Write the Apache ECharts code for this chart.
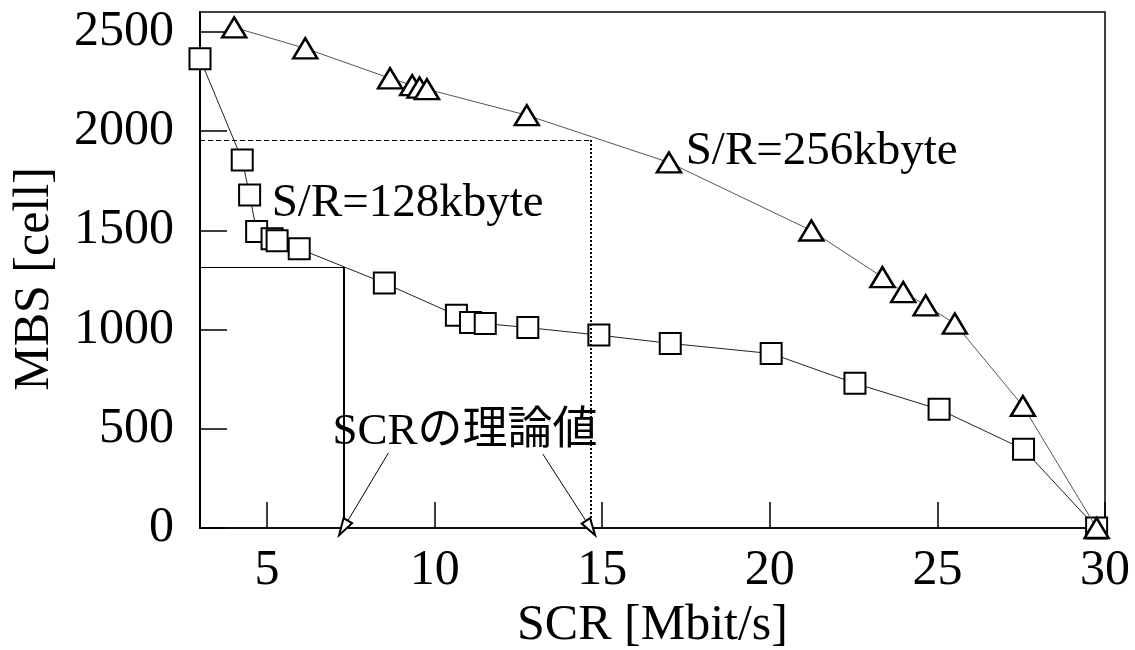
<!DOCTYPE html>
<html><head><meta charset="utf-8">
<script src="https://cdn.jsdelivr.net/npm/echarts@6/dist/echarts.min.js"></script>
<style>html,body{margin:0;padding:0;background:#fff}#c{width:1135px;height:650px}</style>
</head><body><div id="c"></div>
<script>
// ---- data ----
const scr128 = [3.0, 4.26, 4.48, 4.69, 5.15, 5.3, 5.96, 8.5, 10.65, 11.07, 11.51, 12.78, 14.9, 17.03, 20.04, 22.54, 25.05, 27.57, 29.75];
const mbs128 = [2365, 1854, 1678, 1494, 1458, 1447, 1407, 1234, 1072, 1035, 1030, 1010, 972, 930, 879, 729, 598, 397, 0];
const scr256 = [4.02, 6.14, 8.67, 9.33, 9.55, 9.77, 12.75, 16.99, 21.24, 23.36, 23.98, 24.65, 25.52, 27.55, 29.75];
const mbs256 = [2522, 2417, 2266, 2231, 2219, 2211, 2080, 1842, 1499, 1264, 1189, 1122, 1030, 615, 0];
const xTicks = [5, 10, 15, 20, 25, 30];
const yTicks = [0, 500, 1000, 1500, 2000, 2500];
const theorySCR = [7.28, 14.65];
const theoryMBS = [1315, 1955];
const annoTexts = ['S/R=128kbyte', 'S/R=256kbyte', 'SCRの理論値'];
const annoAnchors = [[5.14, 1633], [17.49, 1897], [6.95, 485]];
const arrowStarts = [[8.62, 378], [13.23, 372]];

const FONT = "'Liberation Serif', 'Noto Sans CJK JP', serif";
const chart = echarts.init(document.getElementById('c'), null, {renderer: 'canvas'});

const pairs = (xs, ys) => xs.map((x, i) => [x, ys[i]]);
const xMin = 3;

const refLines = [
  [{coord: [xMin, theoryMBS[0]], lineStyle: {type: 'solid', width: 1}}, {coord: [theorySCR[0], theoryMBS[0]]}],
  [{coord: [theorySCR[0], theoryMBS[0]], lineStyle: {type: 'solid', width: 2}}, {coord: [theorySCR[0], 0]}],
  [{coord: [xMin, theoryMBS[1]], lineStyle: {type: [5, 3], width: 1}}, {coord: [theorySCR[1], theoryMBS[1]]}],
  [{coord: [theorySCR[1], theoryMBS[1]], lineStyle: {type: [2, 2], width: 2}}, {coord: [theorySCR[1], 0]}],
  [{coord: arrowStarts[0], lineStyle: {type: 'solid', width: 1}}, {coord: [theorySCR[0], 0], symbol: 'emptyTriangle', symbolSize: [10, 17]}],
  [{coord: arrowStarts[1], lineStyle: {type: 'solid', width: 1}}, {coord: [theorySCR[1], 0], symbol: 'emptyTriangle', symbolSize: [10, 17]}]
];

chart.setOption({
  animation: false,
  backgroundColor: '#fff',
  grid: {left: 200, right: 30, top: 12, bottom: 122, containLabel: false, outerBoundsMode: 'none',
         show: true, borderColor: '#000', borderWidth: 1.5, backgroundColor: 'transparent'},
  xAxis: {
    type: 'value', min: xMin, max: 30,
    name: 'SCR [Mbit/s]', nameLocation: 'middle', nameGap: 70,
    nameTextStyle: {fontFamily: FONT, fontSize: 50, color: '#000'},
    axisLine: {show: true, onZero: false, lineStyle: {color: '#000', width: 1.5}},
    axisTick: {show: true, inside: true, length: 26, customValues: xTicks, lineStyle: {color: '#000', width: 1.5}},
    axisLabel: {customValues: xTicks, fontFamily: FONT, fontSize: 50, color: '#000', margin: 18,
                formatter: v => String(v)},
    splitLine: {show: false}
  },
  yAxis: {
    type: 'value', min: 0, max: 2600,
    name: 'MBS [cell]', nameLocation: 'middle', nameGap: 140, nameRotate: 90,
    nameTextStyle: {fontFamily: FONT, fontSize: 50, color: '#000', padding: [0, 18, 0, 0]},
    axisLine: {show: true, lineStyle: {color: '#000', width: 2}},
    axisTick: {show: true, inside: true, length: 27, customValues: yTicks, lineStyle: {color: '#000', width: 1.5}},
    axisLabel: {customValues: yTicks, fontFamily: FONT, fontSize: 50, color: '#000', margin: 26,
                formatter: v => String(v)},
    splitLine: {show: false}
  },
  series: [
    {
      type: 'line', name: '128', data: pairs(scr128, mbs128),
      symbol: 'rect', symbolSize: 21, showAllSymbol: true,
      itemStyle: {color: '#fff', borderColor: '#000', borderWidth: 2},
      lineStyle: {color: '#222', width: 1},
      z: 3,
      markLine: {
        silent: true, symbol: ['none', 'none'], animation: false,
        label: {show: false},
        lineStyle: {color: '#000'},
        data: refLines
      }
    },
    {
      type: 'line', name: '256', data: pairs(scr256, mbs256),
      symbol: 'triangle', symbolSize: [24, 20], showAllSymbol: true,
      itemStyle: {color: '#fff', borderColor: '#000', borderWidth: 2.5},
      lineStyle: {color: '#555', width: 1},
      z: 4
    }
  ]
});

const graphics = annoTexts.map((t, i) => {
  const p = chart.convertToPixel({gridIndex: 0}, annoAnchors[i]);
  return {
    type: 'text', x: p[0], y: p[1], z: 100,
    style: {text: t, fill: '#000', font: (i === 2 ? 45 : 47) + 'px ' + FONT, align: 'left', verticalAlign: 'middle'}
  };
});
chart.setOption({graphic: graphics});
</script>
</body></html>
